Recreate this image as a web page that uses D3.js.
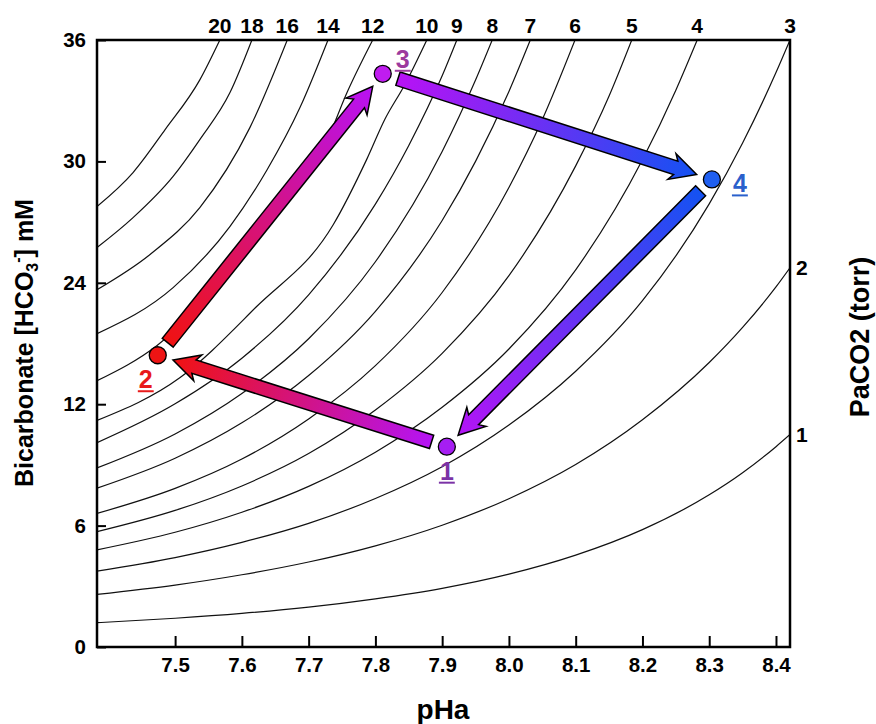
<!DOCTYPE html>
<html><head><meta charset="utf-8">
<script src="https://cdn.jsdelivr.net/npm/d3@7"></script>
<style>
body{margin:0;background:#fff}
svg{display:block}
text{font-family:"Liberation Sans",Arial,Helvetica,sans-serif;font-weight:bold}
</style>
</head><body>
<svg id="chart" width="876" height="724"></svg>
<script>
// ---- data ----
const pHTicks = [7.5, 7.6, 7.7, 7.8, 7.9, 8.0, 8.1, 8.2, 8.3, 8.4];
const hco3Ticks = [0, 6, 12, 24, 30, 36];
const pco2Labels = [20, 18, 16, 14, 12, 10, 9, 8, 7, 6, 5, 4, 3, 2, 1];

const iso20 = [[7.383,27.77],[7.437,29.45],[7.485,31.57],[7.537,34.03],[7.567,36]];
const iso18 = [[7.383,25.74],[7.437,27.22],[7.497,29.26],[7.537,31.08],[7.582,33.39],[7.615,36]];
const iso16 = [[7.383,23.32],[7.462,25.39],[7.537,27.72],[7.612,31.67],[7.668,36]];
const iso14 = [[7.383,18.97],[7.497,23.52],[7.582,26.78],[7.638,29.6],[7.687,32.66],[7.729,36]];
const iso12 = [[7.383,14.32],[7.473,17.81],[7.567,23.81],[7.662,27.87],[7.728,31.08],[7.758,33.44],[7.796,36]];
const iso10 = [[7.383,11.2],[7.507,14.61],[7.621,21.58],[7.737,26.88],[7.787,30.1],[7.814,32.07],[7.844,33.79],[7.877,36]];
const iso9  = [[7.383,10.1],[7.5,12.04],[7.6,16.55],[7.7,22.81],[7.8,27.89],[7.85,30.79],[7.9,34.23],[7.922,36]];
const iso8  = [[7.383,8.85],[7.5,10.53],[7.6,13.06],[7.7,18.47],[7.8,25.04],[7.9,30.49],[7.95,34.02],[7.975,36]];
const iso7  = [[7.383,7.85],[7.5,9.33],[7.6,11.08],[7.7,14.83],[7.8,21.18],[7.9,27.08],[7.95,30.0],[8.0,33.46],[8.032,36]];
const iso6  = [[7.383,6.6],[7.5,7.84],[7.6,9.29],[7.7,11.27],[7.8,15.81],[7.9,23.04],[8.0,28.71],[8.05,32.07],[8.099,36]];
const iso5  = [[7.383,5.7],[7.5,6.75],[7.6,7.96],[7.7,9.56],[7.8,11.71],[7.9,17.02],[8.0,24.35],[8.1,29.78],[8.15,33.23],[8.184,36]];
const iso4  = [[7.383,4.8],[7.5,5.67],[7.6,6.66],[7.7,7.94],[7.8,9.63],[7.9,11.85],[8.0,17.46],[8.1,24.64],[8.2,30.08],[8.25,33.52],[8.282,36]];
const iso3  = [[7.383,3.75],[7.5,4.42],[7.6,5.17],[7.7,6.11],[7.8,7.34],[7.9,8.91],[8.0,10.97],[8.1,15.26],[8.2,22.23],[8.3,27.9],[8.35,30.91],[8.4,34.39],[8.421,36]];
const iso2  = [[7.383,2.6],[7.5,3.06],[7.6,3.57],[7.7,4.2],[7.8,5.0],[7.9,6.02],[8.0,7.33],[8.1,9.02],[8.2,11.23],[8.3,16.12],[8.35,19.59],[8.4,23.59],[8.421,24.74]];
const iso1  = [[7.383,1.2],[7.5,1.42],[7.6,1.66],[7.7,1.97],[7.8,2.38],[7.9,2.9],[8.0,3.6],[8.1,4.54],[8.2,5.8],[8.3,7.52],[8.35,8.61],[8.4,9.9],[8.421,10.5]];
const isobars = [iso20, iso18, iso16, iso14, iso12, iso10, iso9, iso8, iso7, iso6, iso5, iso4, iso3, iso2, iso1];

const stateLabels = ["1", "2", "3", "4"];
const statePH   = [7.907, 7.474, 7.811, 8.304];
const stateHCO3 = [9.9, 16.84, 34.33, 29.11];
const transitions = [[0, 1], [1, 2], [2, 3], [3, 0]];

// ---- styles ----
const stateFill   = ["#a61ef2", "#ee1414", "#c01cf0", "#1f5ff0"];
const arrowColor  = ["#b414f5", "#f01212", "#b812f5", "#1452f2"];
const labelColor  = ["#7b32a6", "#e81a1a", "#9c3a9e", "#2a60cc"];
const labelOffset = [[0, 33], [-12, 33], [20, -6], [28, 13]];

const pL = 97, pR = 790, pT = 40, pB = 647;
const svg = d3.select("#chart");

const x = d3.scaleLinear().domain([7.383, 8.421]).range([pL, pR]);
const y = d3.scaleLinear().domain(hco3Ticks)
  .range(hco3Ticks.map((d, i) => pB - i * (pB - pT) / (hco3Ticks.length - 1)));

const defs = svg.append("defs");
defs.append("clipPath").attr("id", "plotClip")
  .append("rect").attr("x", pL).attr("y", pT).attr("width", pR - pL).attr("height", pB - pT);

// isobars
const line = d3.line().x(d => x(d[0])).y(d => y(d[1])).curve(d3.curveMonotoneX);
svg.append("g").attr("clip-path", "url(#plotClip)")
  .selectAll("path").data(isobars).join("path")
  .attr("d", line).attr("fill", "none").attr("stroke", "#111").attr("stroke-width", 1.2);

// frame
svg.append("rect").attr("x", pL).attr("y", pT).attr("width", pR - pL).attr("height", pB - pT)
  .attr("fill", "none").attr("stroke", "#000").attr("stroke-width", 2.5);

// axes
const xAxis = d3.axisBottom(x).tickValues(pHTicks).tickFormat(d3.format(".1f"))
  .tickSizeInner(-11).tickSizeOuter(0).tickPadding(10);
const gx = svg.append("g").attr("transform", `translate(0,${pB})`).call(xAxis);
const yAxis = d3.axisLeft(y).tickValues(hco3Ticks).tickFormat(d3.format("d"))
  .tickSizeInner(-9).tickSizeOuter(0).tickPadding(11);
const gy = svg.append("g").attr("transform", `translate(${pL},0)`).call(yAxis);
[gx, gy].forEach(g => {
  g.select(".domain").remove();
  g.selectAll(".tick line").attr("stroke", "#000").attr("stroke-width", 2);
  g.selectAll(".tick text").attr("font-size", 20.5).attr("font-family", '"Liberation Sans",Arial,sans-serif')
    .attr("font-weight", "bold").attr("fill", "#000");
});

// isobar labels
isobars.forEach((iso, i) => {
  const last = iso[iso.length - 1];
  const t = svg.append("text").text(pco2Labels[i]).attr("font-size", 21).attr("fill", "#000");
  if (last[1] >= 36) {
    t.attr("x", x(last[0])).attr("y", pT - 7).attr("text-anchor", "middle");
  } else {
    t.attr("x", pR + 6).attr("y", y(last[1]) + 7).attr("text-anchor", "start");
  }
});

// arrows
const gap = 16, bodyW = 7, headW = 13.5, headL = 22, barb = 4;
transitions.forEach(([a, b], i) => {
  const P = [x(statePH[a]), y(stateHCO3[a])], Q = [x(statePH[b]), y(stateHCO3[b])];
  const dx = Q[0] - P[0], dy = Q[1] - P[1], L = Math.hypot(dx, dy);
  const ux = dx / L, uy = dy / L, nx = -uy, ny = ux;
  const S = [P[0] + ux * gap, P[1] + uy * gap], E = [Q[0] - ux * gap, Q[1] - uy * gap];
  const B = [E[0] - ux * headL, E[1] - uy * headL];
  const Bb = [E[0] - ux * (headL + barb), E[1] - uy * (headL + barb)];
  const pts = [
    [S[0] + nx * bodyW, S[1] + ny * bodyW],
    [B[0] + nx * bodyW, B[1] + ny * bodyW],
    [Bb[0] + nx * headW, Bb[1] + ny * headW],
    E,
    [Bb[0] - nx * headW, Bb[1] - ny * headW],
    [B[0] - nx * bodyW, B[1] - ny * bodyW],
    [S[0] - nx * bodyW, S[1] - ny * bodyW]
  ];
  const gid = "grad" + i;
  const lg = defs.append("linearGradient").attr("id", gid).attr("gradientUnits", "userSpaceOnUse")
    .attr("x1", S[0]).attr("y1", S[1]).attr("x2", E[0]).attr("y2", E[1]);
  lg.append("stop").attr("offset", "0%").attr("stop-color", arrowColor[a]);
  lg.append("stop").attr("offset", "100%").attr("stop-color", arrowColor[b]);
  svg.append("path").attr("d", "M" + pts.map(p => p.join(",")).join("L") + "Z")
    .attr("fill", `url(#${gid})`).attr("stroke", "#000").attr("stroke-width", 1.5).attr("stroke-linejoin", "miter");
});

// state points
svg.append("g").selectAll("circle").data(stateLabels).join("circle")
  .attr("cx", (d, i) => x(statePH[i])).attr("cy", (d, i) => y(stateHCO3[i])).attr("r", 8.5)
  .attr("fill", (d, i) => stateFill[i]).attr("stroke", "#000").attr("stroke-width", 1.3);

stateLabels.forEach((s, i) => {
  const cx = x(statePH[i]) + labelOffset[i][0], cy = y(stateHCO3[i]) + labelOffset[i][1];
  const t = svg.append("text").text(s).attr("x", cx).attr("y", cy).attr("text-anchor", "middle")
    .attr("font-size", 25).attr("fill", labelColor[i]);
  const w = t.node().getComputedTextLength();
  svg.append("line").attr("x1", cx - w / 2 - 1).attr("x2", cx + w / 2 + 1).attr("y1", cy + 3).attr("y2", cy + 3)
    .attr("stroke", labelColor[i]).attr("stroke-width", 2);
});

// axis titles
svg.append("text").attr("x", 443).attr("y", 719).attr("text-anchor", "middle").attr("font-size", 28).text("pHa");

const yt = svg.append("text").attr("transform", "translate(33,343) rotate(-90)").attr("text-anchor", "middle")
  .attr("font-size", 25);
yt.append("tspan").text("Bicarbonate [HCO");
yt.append("tspan").attr("font-size", 16).attr("dy", 5).text("3");
yt.append("tspan").attr("font-size", 16).attr("dy", -15).text("-");
yt.append("tspan").attr("dy", 10).text("] mM");

svg.append("text").attr("transform", "translate(869,337) rotate(-90)").attr("text-anchor", "middle")
  .attr("font-size", 27).text("PaCO2  (torr)");
</script>
</body></html>
